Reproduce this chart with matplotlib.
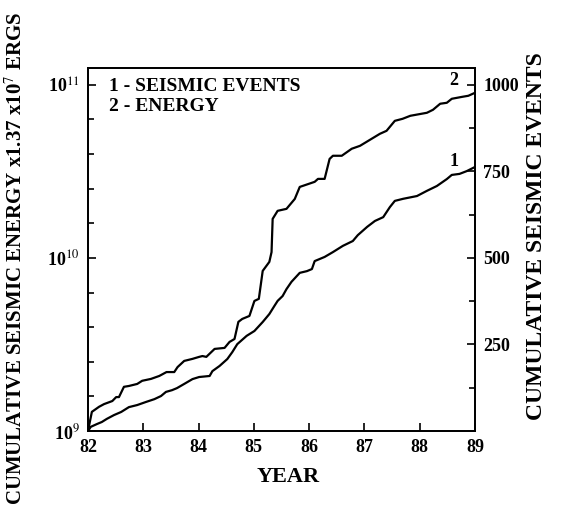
import matplotlib
matplotlib.use("Agg")
import matplotlib.pyplot as plt
from matplotlib.ticker import FixedLocator, NullFormatter

plt.rcParams['font.family'] = ['Liberation Serif', 'DejaVu Serif']
plt.rcParams['mathtext.fontset'] = 'stix'

# curve 2: cumulative energy (units of 1e9, left log axis)
energy_year = [82.00, 82.07, 82.20, 82.29, 82.44, 82.51, 82.56, 82.65, 82.74, 82.89,
               82.98, 83.14, 83.29, 83.42, 83.56, 83.62, 83.74, 83.89, 84.01, 84.07,
               84.14, 84.29, 84.47, 84.56, 84.65, 84.72, 84.79, 84.92, 85.01, 85.09,
               85.16, 85.28, 85.32, 85.34, 85.43, 85.59, 85.74, 85.83, 86.10, 86.16,
               86.28, 86.37, 86.43, 86.59, 86.77, 86.92, 87.10, 87.28, 87.40, 87.55,
               87.69, 87.83, 88.13, 88.24, 88.37, 88.49, 88.58, 88.77, 88.88, 89.00]
energy_e9 = [1.00, 1.29, 1.38, 1.43, 1.49, 1.57, 1.57, 1.80, 1.82, 1.87,
             1.95, 2.00, 2.08, 2.19, 2.19, 2.34, 2.54, 2.61, 2.68, 2.71,
             2.68, 2.98, 3.02, 3.27, 3.40, 4.27, 4.44, 4.62, 5.64, 5.80,
             8.41, 9.48, 10.8, 16.8, 18.7, 19.2, 21.9, 25.7, 27.5, 28.6,
             28.6, 37.3, 38.9, 38.9, 42.7, 44.4, 48.1, 52.1, 54.2, 61.9,
             63.6, 66.2, 68.9, 71.7, 77.7, 78.7, 83.0, 85.2, 86.4, 89.9]

# curve 1: cumulative number of seismic events (right axis)
events_year = [82.00, 82.05, 82.16, 82.25, 82.34, 82.47, 82.60, 82.74, 82.89, 83.05,
               83.20, 83.32, 83.41, 83.52, 83.61, 83.74, 83.89, 84.01, 84.20, 84.25,
               84.38, 84.52, 84.61, 84.70, 84.87, 85.01, 85.16, 85.28, 85.37, 85.43,
               85.52, 85.59, 85.68, 85.83, 85.96, 86.05, 86.10, 86.28, 86.43, 86.61,
               86.79, 86.88, 87.05, 87.19, 87.34, 87.46, 87.55, 87.70, 87.95, 88.13,
               88.31, 88.49, 88.58, 88.72, 88.85, 89.00]
events = [0, 12, 20, 26, 35, 46, 55, 69, 75, 84,
          92, 101, 113, 118, 124, 136, 150, 156, 159, 173,
          188, 208, 228, 251, 275, 289, 315, 338, 361, 376,
          390, 410, 431, 457, 462, 468, 491, 503, 517, 535,
          549, 566, 590, 607, 618, 647, 665, 671, 679, 694,
          708, 728, 740, 743, 751, 763]

years = [82, 83, 84, 85, 86, 87, 88, 89]
left_major = [1e9, 1e10, 1e11]
left_labels = ['10$^{9}$', '10$^{10}$', '10$^{11}$']
left_minor = [10 ** (d + f) for d in (9, 10) for f in (0.2, 0.4, 0.6, 0.8)]
right_major = [250, 500, 750, 1000]
right_minor = [125, 375, 625, 875]

fig = plt.figure(figsize=(5.62, 5.08), dpi=100)
ax = fig.add_axes([88 / 562, 1 - 431 / 508, 387 / 562, 363 / 508])
ax2 = ax.twinx()

ax.plot(energy_year, [v * 1e9 for v in energy_e9], color='black', lw=1.6)
ax2.plot(events_year, events, color='black', lw=1.6)

ax.set_yscale('log')
ax.set_xlim(82, 89)
ax.set_ylim(1e9, 1.25e11)
ax2.set_ylim(0, 1049)

ax.set_xticks(years)
ax.set_xticklabels([str(y) for y in years])
ax.yaxis.set_major_locator(FixedLocator(left_major))
ax.set_yticklabels(left_labels)
ax.yaxis.set_minor_locator(FixedLocator(left_minor))
ax.yaxis.set_minor_formatter(NullFormatter())
ax2.set_yticks(right_major)
ax2.set_yticks(right_minor, minor=True)

for a in (ax, ax2):
    a.tick_params(which='both', direction='in', labelsize=13, width=1.2)
    a.tick_params(which='major', length=6, pad=6)
    a.tick_params(which='minor', length=4)
    for s in a.spines.values():
        s.set_linewidth(1.3)
ax.tick_params(axis='x', pad=6)
for lab in ax.get_xticklabels() + ax.get_yticklabels() + ax2.get_yticklabels():
    lab.set_fontweight('bold')

ax.text(0.055, 0.95, '1 - SEISMIC EVENTS', transform=ax.transAxes,
        fontsize=14, fontweight='bold', va='center')
ax.text(0.055, 0.895, '2 - ENERGY', transform=ax.transAxes,
        fontsize=14, fontweight='bold', va='center')
ax2.text(88.62, 1012, '2', fontsize=13, fontweight='bold', ha='center', va='center')
ax2.text(88.62, 780, '1', fontsize=13, fontweight='bold', ha='center', va='center')

fig.text(288 / 562, 1 - 477 / 508, 'YEAR', fontsize=16, fontweight='bold',
         ha='center', va='center')
fig.text(16 / 562, 1 - 258 / 508, 'CUMULATIVE SEISMIC ENERGY x1.37 x10$^{7}$ ERGS',
         fontsize=15, fontweight='bold', rotation=90, ha='center', va='center')
fig.text(537 / 562, 1 - 236 / 508, 'CUMULATIVE SEISMIC EVENTS',
         fontsize=17, fontweight='bold', rotation=90, ha='center', va='center')

fig.savefig('out.png', dpi=100)
